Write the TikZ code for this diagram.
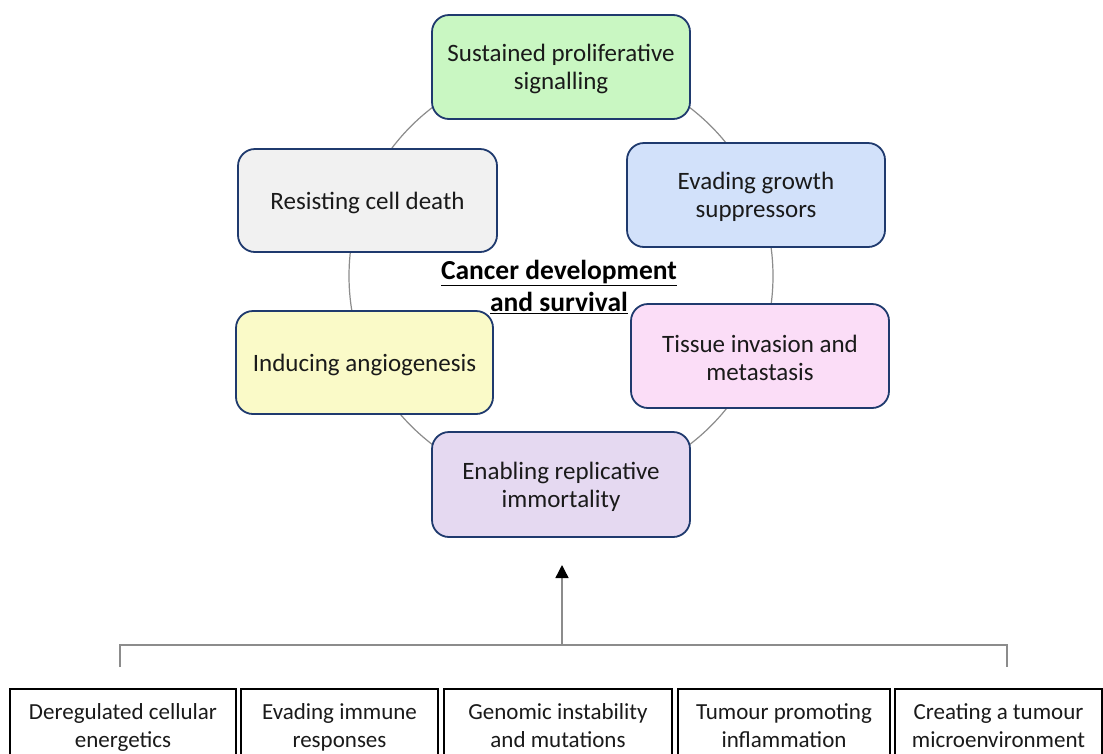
\documentclass[tikz,border=0pt]{standalone}
\usepackage{fontspec}
\setmainfont{Carlito}
\usetikzlibrary{arrows.meta,calc}
\definecolor{navy}{HTML}{1F3A6E}
\definecolor{txt}{HTML}{1A1A1A}
\definecolor{cgreen}{HTML}{C9F7C2}
\definecolor{cblue}{HTML}{D2E1FA}
\definecolor{cgrey}{HTML}{F1F1F1}
\definecolor{cyellow}{HTML}{FAFAC8}
\definecolor{cpink}{HTML}{FBDDF7}
\definecolor{cpurple}{HTML}{E5D9F1}
\definecolor{lgrey}{HTML}{8C8C8C}
\tikzset{
  hall/.style={draw=navy, line width=1.8pt, rounded corners=17pt, minimum width=258pt, minimum height=104pt, inner sep=0pt},
  htxt/.style={align=center, text=txt, font=\fontsize{25}{28}\selectfont, inner sep=0pt, yshift=-2pt},
  cbox/.style={draw=black, line width=1.8pt, minimum height=100pt, inner sep=0pt, anchor=north},
  btxt/.style={align=center, text=txt, font=\fontsize{23}{28}\selectfont, inner sep=0pt, anchor=base},
  conn/.style={draw=lgrey, line width=1.4pt},
}
\begin{document}
\begin{tikzpicture}[x=1pt,y=-1pt]
\useasboundingbox (0,0) rectangle (1103,753);
\clip (0,0) rectangle (1103,753);
\fill[white] (0,0) rectangle (1103,753);
% ring
\draw[lgrey, line width=1.2pt] (561,276) circle[radius=212];
% hallmark nodes
\node[hall, fill=cgreen] (sps) at (561,67) {};
\node[htxt] (sps-t) at (sps.center) {Sustained proliferative\\signalling};
\node[hall, fill=cblue] (egs) at (756,195) {};
\node[htxt] (egs-t) at (egs.center) {Evading growth\\suppressors};
\node[hall, fill=cgrey, minimum width=259pt, minimum height=103pt] (rcd) at (367.5,200.5) {};
\node[htxt] (rcd-t) at (rcd.center) {Resisting cell death};
\node[hall, fill=cyellow, minimum width=257pt, minimum height=103pt] (ia) at (364.5,362.5) {};
\node[htxt] (ia-t) at (ia.center) {Inducing angiogenesis};
\node[hall, fill=cpink] (tim) at (760,356) {};
\node[htxt] (tim-t) at (tim.center) {Tissue invasion and\\metastasis};
\node[hall, fill=cpurple, minimum height=105pt] (eri) at (561,484.5) {};
\node[htxt] (eri-t) at (eri.center) {Enabling replicative\\immortality};
% centre label
\node[font=\fontsize{27.5}{32}\selectfont\bfseries, text=black, align=center] (cds) at (559,287) {\underline{Cancer development}\\\underline{and survival}};
% bottom boxes
\node[cbox, minimum width=226pt] (b1) at (123,688) {};
\node[btxt] (b1-t) at ($(b1.north)+(0,59)$) {Deregulated cellular\\energetics};
\node[cbox, minimum width=197pt] (b2) at (339.5,688) {};
\node[btxt] (b2-t) at ($(b2.north)+(0,59)$) {Evading immune\\responses};
\node[cbox, minimum width=228pt] (b3) at (558,688) {};
\node[btxt] (b3-t) at ($(b3.north)+(0,59)$) {Genomic instability\\and mutations};
\node[cbox, minimum width=212pt] (b4) at (784,688) {};
\node[btxt] (b4-t) at ($(b4.north)+(0,59)$) {Tumour promoting\\inflammation};
\node[cbox, minimum width=207pt] (b5) at (998.5,688) {};
\node[btxt] (b5-t) at ($(b5.north)+(0,59)$) {Creating a tumour\\microenvironment};
% bracket and arrow
\coordinate (bl) at (120,667);
\coordinate (br) at (1007,667);
\coordinate (bm) at (562,645);
\coordinate (tip) at (562,565);
\draw[conn] (bl) |- (bm) -| (br);
\draw[conn, -{Triangle[length=13pt,width=13pt,color=black]}] (bm) -- (tip);
\end{tikzpicture}
\end{document}
